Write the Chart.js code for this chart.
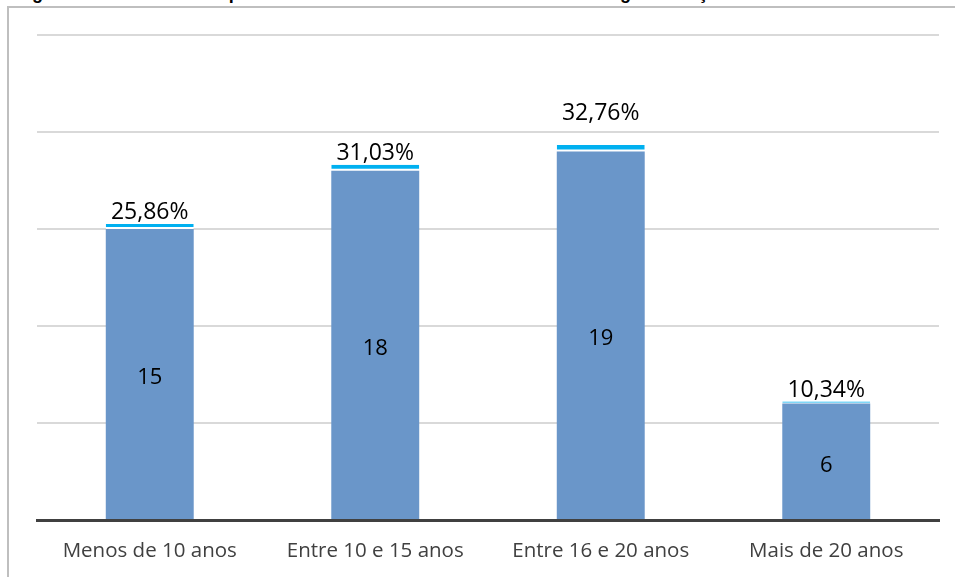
<!DOCTYPE html>
<html>
<head>
<meta charset="utf-8">
<script src="https://cdn.jsdelivr.net/npm/chart.js@4.4.1/dist/chart.umd.min.js"></script>
<style>
  html, body { margin: 0; padding: 0; background: #fff; overflow: hidden; }
  #wrap { position: relative; width: 955px; height: 577px; overflow: hidden; }
  #frame { position: absolute; left: 7px; top: 6px; width: 1000px; height: 700px; border: 2px solid #bfbfbf; box-sizing: border-box; }
  .ttl { position: absolute; top: -16px; font: bold 18px "Liberation Sans", Arial, sans-serif; line-height: 18px; color: #000; white-space: nowrap; }
  canvas { position: absolute; left: 0; top: 0; }
</style>
</head>
<body>
<div id="wrap">
  <div id="frame"></div>
  <span class="ttl" style="left:16px">Figura 1 –</span>
  <span class="ttl" style="left:193px">Tempo de atividade dos docentes desde a</span>
  <span class="ttl" style="left:620px;letter-spacing:3px">graduação</span>
  <canvas id="c" width="955" height="577"></canvas>
</div>
<script>
const categories = ['Menos de 10 anos', 'Entre 10 e 15 anos', 'Entre 16 e 20 anos', 'Mais de 20 anos'];
const counts = [15, 18, 19, 6];
const percents = [25.86, 31.03, 32.76, 10.34];
const percentLabels = ['25,86%', '31,03%', '32,76%', '10,34%'];
const yTicks = [0, 5, 10, 15, 20, 25];

const labelFont = '"Open Sans", "Liberation Sans", sans-serif';

const labelPlugin = {
  id: 'barLabels',
  afterDatasetsDraw(chart) {
    const ctx = chart.ctx;
    const m0 = chart.getDatasetMeta(0).data;
    const m1 = chart.getDatasetMeta(1).data;
    ctx.save();
    ctx.fillStyle = '#000';
    ctx.textAlign = 'center';
    for (let i = 0; i < counts.length; i++) {
      const b = m0[i];
      ctx.font = '22px ' + labelFont;
      ctx.textBaseline = 'middle';
      ctx.fillText(String(counts[i]), b.x, (b.y + b.base) / 2 + 4);
      const t = m1[i];
      ctx.font = '23px ' + labelFont;
      ctx.textBaseline = 'alphabetic';
      const extra = i === 2 ? 20 : 0;
      ctx.fillText(percentLabels[i], t.x, t.y - 5 - extra);
    }
    ctx.restore();
  }
};

new Chart(document.getElementById('c'), {
  type: 'bar',
  data: {
    labels: categories,
    datasets: [
      {
        label: 'Quantidade',
        data: counts,
        backgroundColor: '#6a96c9',
        borderWidth: 0,
        barPercentage: 0.39,
        categoryPercentage: 1
      },
      {
        label: 'Percentual',
        data: percents.map(v => v / 100),
        backgroundColor: '#00b0f0',
        borderColor: '#ffffff',
        borderWidth: { top: 0, left: 0, right: 0, bottom: 2 },
        borderSkipped: false,
        barPercentage: 0.39,
        categoryPercentage: 1
      }
    ]
  },
  options: {
    responsive: false,
    animation: false,
    devicePixelRatio: 1,
    layout: { padding: { left: 37, right: 16, top: 35, bottom: 0 } },
    plugins: {
      legend: { display: false },
      title: { display: false },
      tooltip: { enabled: false }
    },
    scales: {
      x: {
        stacked: true,
        grid: { display: false, drawTicks: false },
        border: { display: true, color: '#404040', width: 3 },
        ticks: {
          color: '#404040',
          font: { family: labelFont, size: 20.5 },
          padding: 19,
          maxRotation: 0
        },
        afterFit(scale) { scale.height = 57; }
      },
      y: {
        stacked: true,
        min: yTicks[0],
        max: yTicks[yTicks.length - 1],
        afterBuildTicks(scale) { scale.ticks = yTicks.map(v => ({ value: v })); },
        grid: { color: '#d9d9d9', lineWidth: 2, drawTicks: false },
        border: { display: false },
        ticks: { display: false },
        afterFit(scale) { scale.width = 0; }
      }
    }
  },
  plugins: [labelPlugin]
});
</script>
</body>
</html>
